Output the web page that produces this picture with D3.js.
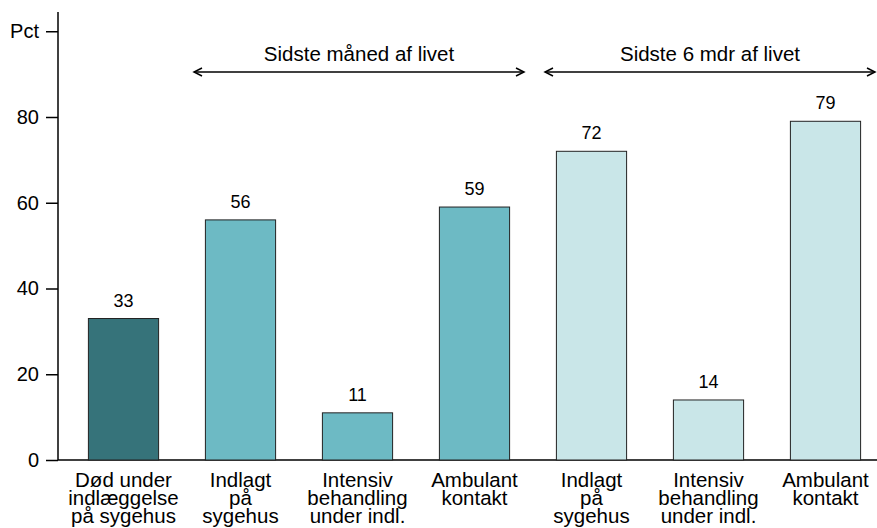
<!DOCTYPE html>
<html>
<head>
<meta charset="utf-8">
<script src="https://cdn.jsdelivr.net/npm/d3@7"></script>
<style>
  body { margin: 0; background: #fff; }
  text { font-family: "Liberation Sans", Arial, sans-serif; fill: #000; }
</style>
</head>
<body>
<div id="chart"></div>
<script>
// data
var categories = [
  ["Død under", "indlæggelse", "på sygehus"],
  ["Indlagt", "på", "sygehus"],
  ["Intensiv", "behandling", "under indl."],
  ["Ambulant", "kontakt"],
  ["Indlagt", "på", "sygehus"],
  ["Intensiv", "behandling", "under indl."],
  ["Ambulant", "kontakt"]
];
var values = [33, 56, 11, 59, 72, 14, 79];
var groups = [0, 1, 1, 1, 2, 2, 2];
var groupColors = ["#36737a", "#6dbac4", "#c9e6e8"];
var yTicks = [0, 20, 40, 60, 80, 100];
var yTickLabels = ["0", "20", "40", "60", "80", "Pct"];
var periods = [
  {label: "Sidste måned af livet", from: 1, to: 3},
  {label: "Sidste 6 mdr af livet", from: 4, to: 6}
];

var width = 877, height = 528;
var axisX = 58;

var svg = d3.select("#chart").append("svg")
  .attr("width", width)
  .attr("height", height);

var x = d3.scaleBand()
  .domain(d3.range(values.length))
  .range([65, 884])
  .paddingInner(0.4)
  .paddingOuter(0.2);

var y = d3.scaleLinear()
  .domain([0, 80])
  .range([460, 117]);

// baseline
svg.append("line")
  .attr("x1", axisX).attr("x2", width)
  .attr("y1", y(0)).attr("y2", y(0))
  .attr("stroke", "#000").attr("stroke-width", 1.5);

// y axis
var yAxis = d3.axisLeft(y)
  .tickValues(yTicks)
  .tickFormat(function(d, i) { return yTickLabels[i]; })
  .tickSize(12)
  .tickPadding(7);

var gy = svg.append("g")
  .attr("transform", "translate(" + axisX + ",0)")
  .call(yAxis);
gy.select(".domain").remove();
gy.selectAll(".tick line").attr("stroke", "#000").attr("stroke-width", 1.5);
gy.selectAll(".tick text")
  .style("font-family", "Liberation Sans, Arial, sans-serif")
  .style("font-size", "20px")
  .attr("fill", "#000");
gy.append("line")
  .attr("x1", 0).attr("x2", 0)
  .attr("y1", 12).attr("y2", y(0))
  .attr("stroke", "#000").attr("stroke-width", 1.5);

// bars
svg.selectAll("rect.bar")
  .data(values)
  .enter().append("rect")
  .attr("class", "bar")
  .attr("x", function(d, i) { return x(i); })
  .attr("width", x.bandwidth())
  .attr("y", function(d) { return y(d); })
  .attr("height", function(d) { return y(0) - y(d); })
  .attr("fill", function(d, i) { return groupColors[groups[i]]; })
  .attr("stroke", "#222")
  .attr("stroke-width", 1);

// value labels
svg.selectAll("text.val")
  .data(values)
  .enter().append("text")
  .attr("class", "val")
  .attr("x", function(d, i) { return x(i) + x.bandwidth() / 2; })
  .attr("y", function(d) { return y(d) - 12; })
  .attr("text-anchor", "middle")
  .style("font-size", "18px")
  .text(function(d) { return d; });

// category labels, one text per line
categories.forEach(function(lines, i) {
  svg.selectAll(null)
    .data(lines)
    .enter().append("text")
    .attr("class", "cat")
    .attr("x", x(i) + x.bandwidth() / 2)
    .attr("y", function(d, j) { return 487 + j * 18; })
    .attr("text-anchor", "middle")
    .style("font-size", "20.5px")
    .text(function(d) { return d; });
});

// period arrows
var arrowY = 72;
periods.forEach(function(p) {
  var x1 = x(p.from) - x.step() * 0.2 + 12;
  var x2 = x(p.to) + x.bandwidth() + x.step() * 0.2 - 9;
  var g = svg.append("g");
  g.append("line")
    .attr("x1", x1).attr("x2", x2)
    .attr("y1", arrowY).attr("y2", arrowY)
    .attr("stroke", "#000").attr("stroke-width", 1.5);
  g.append("path")
    .attr("d", "M" + (x1 + 8) + "," + (arrowY - 4) + "L" + x1 + "," + arrowY + "L" + (x1 + 8) + "," + (arrowY + 4))
    .attr("fill", "none").attr("stroke", "#000").attr("stroke-width", 1.5);
  g.append("path")
    .attr("d", "M" + (x2 - 8) + "," + (arrowY - 4) + "L" + x2 + "," + arrowY + "L" + (x2 - 8) + "," + (arrowY + 4))
    .attr("fill", "none").attr("stroke", "#000").attr("stroke-width", 1.5);
  g.append("text")
    .attr("x", (x1 + x2) / 2)
    .attr("y", 61)
    .attr("text-anchor", "middle")
    .style("font-size", "20.5px")
    .text(p.label);
});
</script>
</body>
</html>
